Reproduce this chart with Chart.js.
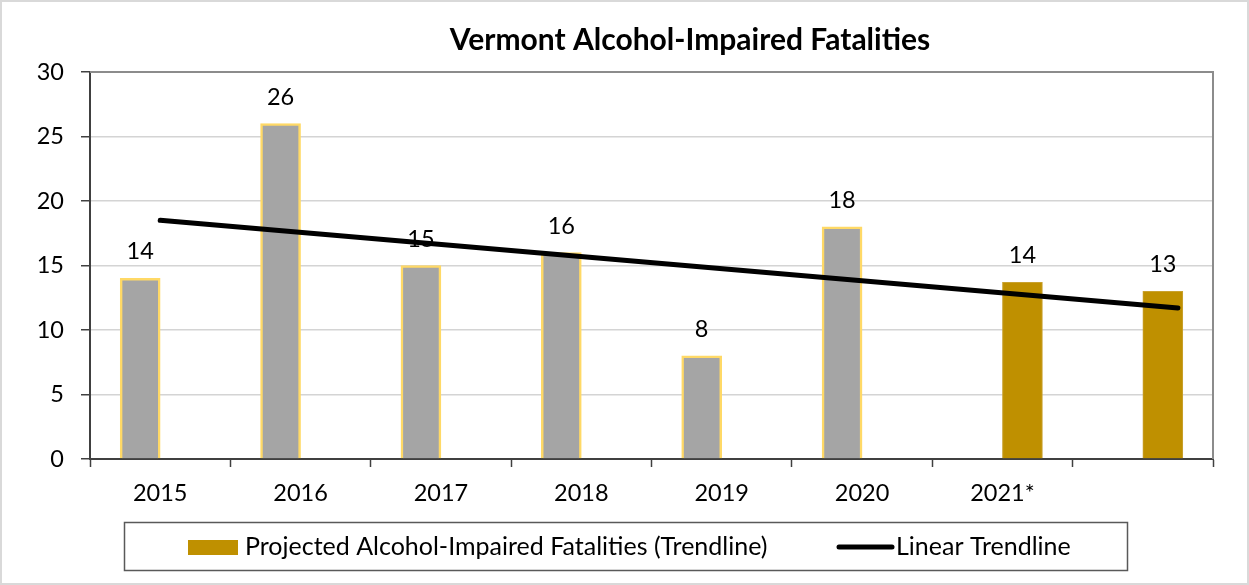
<!DOCTYPE html>
<html><head><meta charset="utf-8">
<script src="https://cdn.jsdelivr.net/npm/chart.js@4.4.1/dist/chart.umd.min.js"></script>
<style>html,body{margin:0;padding:0;background:#fff;} #wrap{width:1249px;height:585px;position:relative;}</style>
</head><body><div id="wrap"><canvas id="c"></canvas></div>
<script>
const titleText = 'Vermont Alcohol-Impaired Fatalities';
const categories = ['2015', '2016', '2017', '2018', '2019', '2020', '2021*', ''];
const actualValues = [14, 26, 15, 16, 8, 18, null, null];
const projectedValues = [null, null, null, null, null, null, 13.7, 13];
const trendX = [0, 7.25];
const trendY = [18.5, 11.7];
const yMin = 0, yMax = 30, yStep = 5;
const legendLabels = ['Projected Alcohol-Impaired Fatalities (Trendline)', 'Linear Trendline'];

const FONT = 'Lato, "Open Sans", sans-serif';
const GRAY = '#A5A5A5', YELLOW = '#FFD966', GOLD = '#BF9000';

const decorPlugin = {
  id: 'decor',
  beforeDraw(chart) {
    const c = chart.ctx;
    c.save(); c.fillStyle = '#fff'; c.fillRect(0, 0, chart.width, chart.height); c.restore();
  },
  afterDatasetsDraw(chart) {
    const c = chart.ctx;
    c.save();
    c.font = '23.5px ' + FONT;
    c.fillStyle = '#000';
    c.textAlign = 'center';
    c.textBaseline = 'alphabetic';
    chart.data.datasets.forEach((ds, di) => {
      if (ds.type === 'line') return;
      const meta = chart.getDatasetMeta(di);
      ds.data.forEach((v, i) => {
        if (v === null) return;
        const el = meta.data[i];
        c.fillText(String(Math.round(v)), el.x, el.y - 19);
      });
    });
    c.restore();
  },
  afterDraw(chart) {
    const c = chart.ctx;
    const a = chart.chartArea;
    c.save();
    c.strokeStyle = '#8C8C8C'; c.lineWidth = 2;
    c.beginPath(); c.moveTo(a.left, a.top); c.lineTo(a.right, a.top); c.lineTo(a.right, a.bottom); c.stroke();
    c.strokeStyle = '#D9D9D9'; c.lineWidth = 2;
    c.strokeRect(1, 1, chart.width - 2, chart.height - 2);
    c.fillStyle = '#000';
    c.font = 'bold 30px ' + FONT;
    c.textAlign = 'center'; c.textBaseline = 'alphabetic';
    c.fillText(titleText, 690, 50);
    c.strokeStyle = '#595959'; c.lineWidth = 1.5;
    c.strokeRect(124.5, 522.5, 1003, 48);
    c.fillStyle = GOLD;
    c.fillRect(188, 540, 50, 15);
    c.fillStyle = '#000';
    c.font = '25px ' + FONT;
    c.textAlign = 'left';
    c.fillText(legendLabels[0], 245, 555);
    c.strokeStyle = '#000'; c.lineWidth = 5; c.lineCap = 'round';
    c.beginPath(); c.moveTo(839, 547); c.lineTo(892, 547); c.stroke();
    c.fillText(legendLabels[1], 896, 555);
    c.restore();
  }
};

new Chart(document.getElementById('c'), {
  type: 'bar',
  data: {
    labels: categories,
    datasets: [
      {
        type: 'line', label: legendLabels[1], order: 0, xAxisID: 'x2',
        data: trendX.map((x, i) => ({ x: x, y: trendY[i] })),
        borderColor: '#000', borderWidth: 5, borderCapStyle: 'round',
        pointRadius: 0, fill: false, tension: 0
      },
      {
        label: 'Actual', order: 1, data: actualValues,
        backgroundColor: GRAY, borderColor: YELLOW, borderWidth: 2.5,
        barThickness: 40
      },
      {
        label: legendLabels[0], order: 1, data: projectedValues,
        backgroundColor: GOLD, borderColor: '#C9A230', borderWidth: 1,
        barThickness: 40
      }
    ]
  },
  options: {
    responsive: true, maintainAspectRatio: false, animation: false,
    devicePixelRatio: 1,
    layout: { padding: { left: 0, top: 72, right: 36, bottom: 0 } },
    plugins: { legend: { display: false }, tooltip: { enabled: false }, title: { display: false } },
    scales: {
      x: {
        type: 'category', offset: true,
        grid: { display: true, drawOnChartArea: false, drawTicks: true, tickLength: 8, tickColor: '#404040', tickWidth: 1.5, offset: true },
        border: { display: true, color: '#404040', width: 2 },
        ticks: { color: '#000', font: { family: FONT, size: 23.5 }, padding: 12, maxRotation: 0, autoSkip: false },
        afterFit(s) { s.height = 126; }
      },
      x2: { type: 'linear', display: false, offset: false, min: -0.5, max: 7.5 },
      y: {
        min: yMin, max: yMax,
        ticks: { stepSize: yStep, color: '#000', font: { family: FONT, size: 23.5 }, padding: 17 },
        grid: {
          color: ctx => (ctx.tick && ctx.tick.value === yMax) ? '#8C8C8C' : '#D4D4D4',
          lineWidth: 1.5, drawTicks: true, tickLength: 9, tickColor: '#404040', tickWidth: 1.5
        },
        border: { display: true, color: '#404040', width: 2 },
        afterFit(s) { s.width = 90; }
      }
    }
  },
  plugins: [decorPlugin]
});
</script></body></html>
